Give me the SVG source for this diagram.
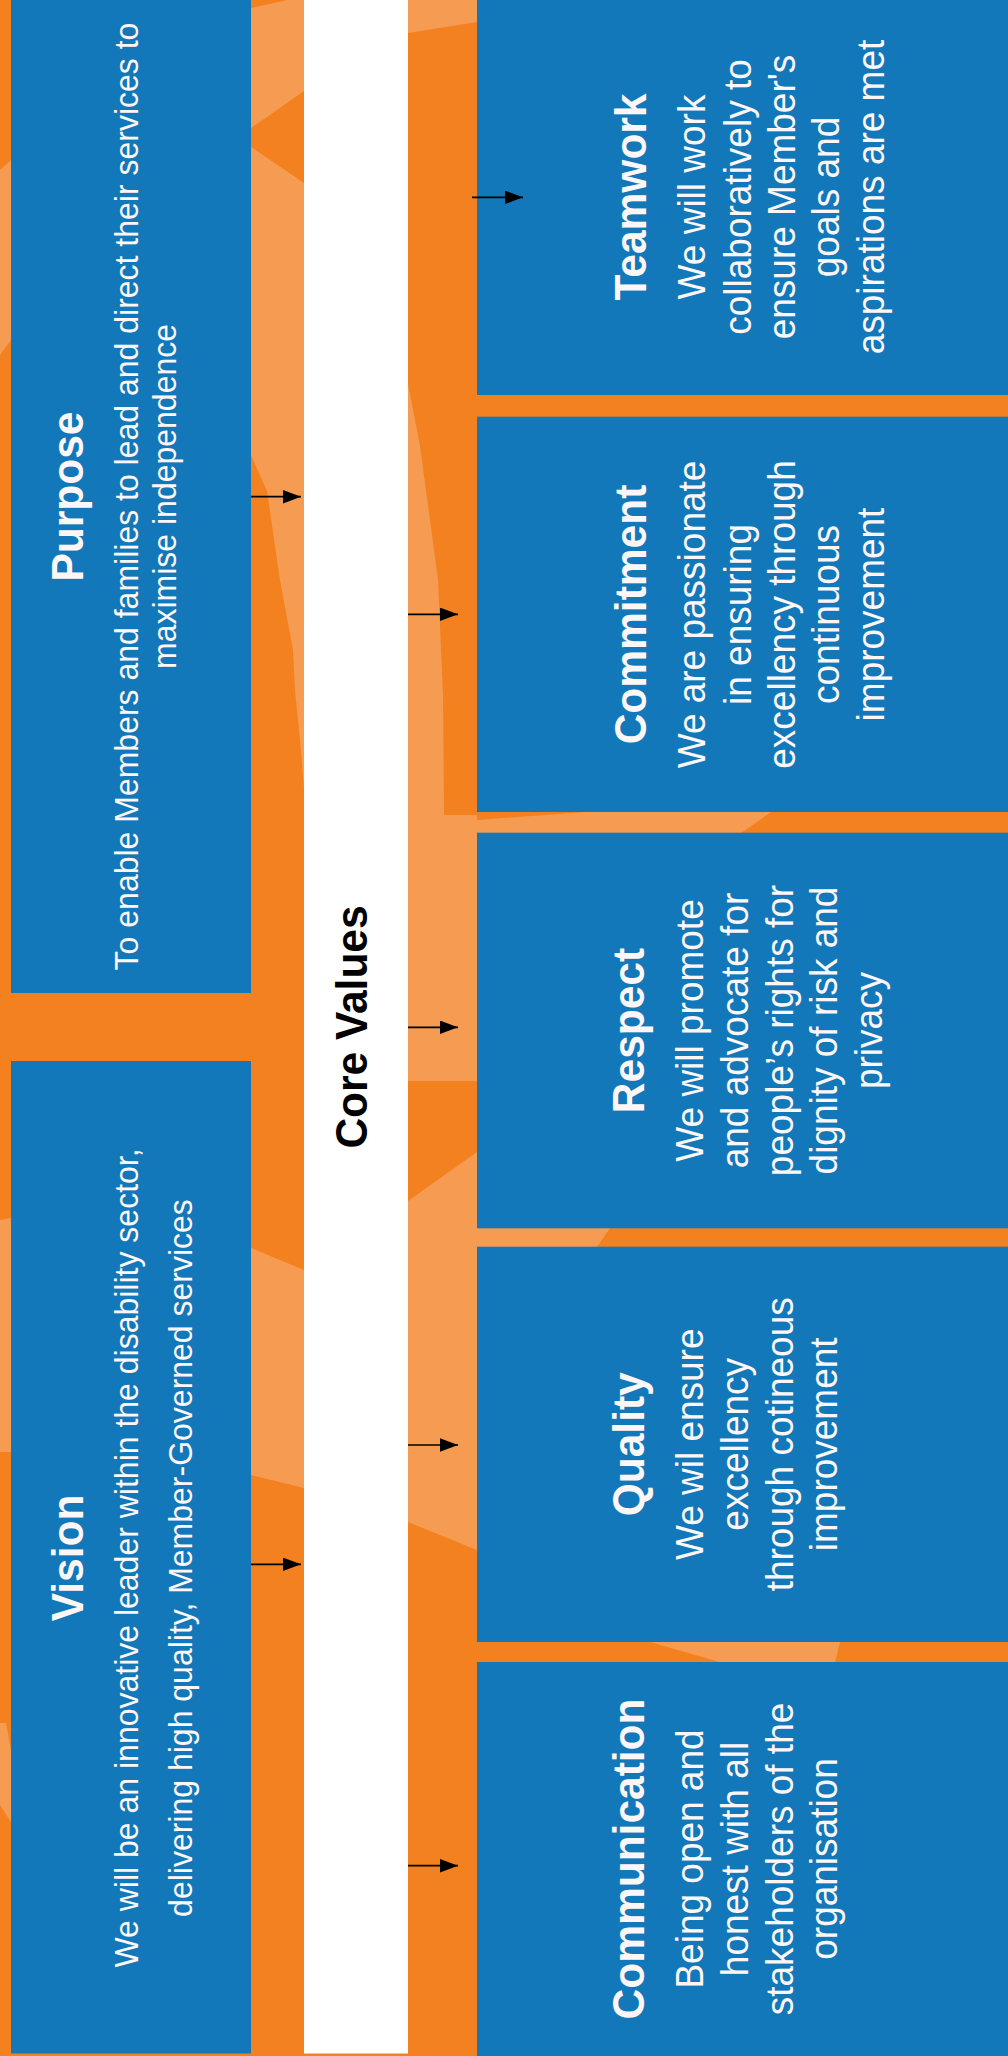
<svg xmlns="http://www.w3.org/2000/svg" width="1008" height="2056" viewBox="0 0 1008 2056">
<style>
.bg{fill:#F48120}
.lt{fill:#F69C52}
.og{fill:#F48120}
.box{fill:#1378BA}
.bar{fill:#FFFFFF}
.t{font-family:"Liberation Sans",Arial,sans-serif;text-anchor:middle;fill:#FDF6F6}
.h{font-weight:bold;font-size:42.5px}
.bl{font-size:32px}
.br{font-size:37px}
.cv{font-family:"Liberation Sans",Arial,sans-serif;text-anchor:middle;font-weight:bold;font-size:42.5px;fill:#000000}
.arr{stroke:#000000;stroke-width:1.7;fill:none}
</style>
<defs>
<marker id="ah" markerUnits="userSpaceOnUse" markerWidth="18" markerHeight="14" refX="18" refY="6.7" orient="auto">
<path d="M0,0 L18,6.7 L0,13.4 z" fill="#000000"/>
</marker>
</defs>
<g id="background">
<rect class="bg" x="0" y="0" width="1008" height="2056"/>
<polygon class="lt" points="0,170 11,160 11,340 0,355"/>
<polygon class="lt" points="0,1220 11,1218 11,1452 0,1452"/>
<polygon class="lt" points="0,1723 6,1723 11,1750 11,1822 0,1805"/>
<polygon class="lt" points="251,8 288,0 304,0 304,788 300,740 295,690 293,650 280,580 267,491 251,455"/>
<polygon class="og" points="304,91 251,128 251,147 304,183"/>
<polygon class="lt" points="251,1248 304,1270 304,1488 251,1475"/>
<polygon class="lt" points="408,0 477,0 477,22 408,33"/>
<polygon class="lt" points="408,384 420,446 438,580 443,696 444,815 477,815 477,1550 408,1522"/>
<polygon class="og" points="408,1081 477,1081 477,1152 408,1201"/>
<polygon class="lt" points="477,820 587,812 771,812 741,833 477,833"/>
<polygon class="lt" points="477,1228 610,1228 597,1247 477,1247"/>
<polygon class="lt" points="650,1642 840,1642 835,1662 720,1662"/>
</g>
<g id="core-values">
<rect class="bar" x="304" y="0" width="104" height="2053.5"/>
<g transform="translate(0,1027) rotate(-90) scale(1,1.045)">
<text class="cv" x="0" y="350.9">Core Values</text>
</g>
</g>
<g id="purpose">
<rect class="box" x="11" y="0" width="240" height="993"/>
<g transform="translate(0,496.5) rotate(-90) scale(1,1.045)">
<text class="t h" x="0" y="79.7">Purpose</text>
<text class="t bl" x="0" y="131.8">To enable Members and families to lead and direct their services to</text>
<text class="t bl" x="0" y="168.4">maximise independence</text>
</g>
</g>
<g id="vision">
<rect class="box" x="11" y="1061" width="240" height="992.5"/>
<g transform="translate(0,1558) rotate(-90) scale(1,1.045)">
<text class="t h" x="0" y="79.7">Vision</text>
<text class="t bl" x="0" y="131.8">We will be an innovative leader within the disability sector,</text>
<text class="t bl" x="0" y="183.4">delivering high quality, Member-Governed services</text>
</g>
</g>
<g id="teamwork">
<rect class="box" x="477" y="0" width="531" height="395"/>
<g transform="translate(0,197) rotate(-90) scale(1,1.045)">
<text class="t h" x="0" y="617.9">Teamwork</text>
<text class="t br" x="0" y="674.6">We will work</text>
<text class="t br" x="0" y="718.4">collaboratively to</text>
<text class="t br" x="0" y="760.8">ensure Member's</text>
<text class="t br" x="0" y="802.9">goals and</text>
<text class="t br" x="0" y="845.9">aspirations are met</text>
</g>
</g>
<g id="commitment">
<rect class="box" x="477" y="416.7" width="531" height="395.3"/>
<g transform="translate(0,614.5) rotate(-90) scale(1,1.045)">
<text class="t h" x="0" y="617.9">Commitment</text>
<text class="t br" x="0" y="674.6">We are passionate</text>
<text class="t br" x="0" y="718.4">in ensuring</text>
<text class="t br" x="0" y="760.8">excellency through</text>
<text class="t br" x="0" y="802.9">continuous</text>
<text class="t br" x="0" y="845.9">improvement</text>
</g>
</g>
<g id="respect">
<rect class="box" x="477" y="832.7" width="531" height="395.6"/>
<g transform="translate(0,1030.5) rotate(-90) scale(1,1.045)">
<text class="t h" x="0" y="616.3">Respect</text>
<text class="t br" x="0" y="673">We will promote</text>
<text class="t br" x="0" y="716.1">and advocate for</text>
<text class="t br" x="0" y="758.9">people’s rights for</text>
<text class="t br" x="0" y="801.2">dignity of risk and</text>
<text class="t br" x="0" y="844">privacy</text>
</g>
</g>
<g id="quality">
<rect class="box" x="477" y="1246.7" width="531" height="395.3"/>
<g transform="translate(0,1444.3) rotate(-90) scale(1,1.045)">
<text class="t h" x="0" y="616.3">Quality</text>
<text class="t br" x="0" y="673">We wil ensure</text>
<text class="t br" x="0" y="716.1">excellency</text>
<text class="t br" x="0" y="758.9">through cotineous</text>
<text class="t br" x="0" y="801.2">improvement</text>
</g>
</g>
<g id="communication">
<rect class="box" x="477" y="1662" width="531" height="394"/>
<g transform="translate(0,1859) rotate(-90) scale(1,1.045)">
<text class="t h" x="0" y="616.3">Communication</text>
<text class="t br" x="0" y="673">Being open and</text>
<text class="t br" x="0" y="716.1">honest with all</text>
<text class="t br" x="0" y="758.9">stakeholders of the</text>
<text class="t br" x="0" y="801.2">organisation</text>
</g>
</g>
<g id="connectors">
<line class="arr" x1="251" y1="496.7" x2="301" y2="496.7" marker-end="url(#ah)"/>
<line class="arr" x1="251" y1="1564.3" x2="301" y2="1564.3" marker-end="url(#ah)"/>
<line class="arr" x1="472" y1="197.3" x2="523" y2="197.3" marker-end="url(#ah)"/>
<line class="arr" x1="408" y1="614.3" x2="458" y2="614.3" marker-end="url(#ah)"/>
<line class="arr" x1="408" y1="1027.3" x2="458" y2="1027.3" marker-end="url(#ah)"/>
<line class="arr" x1="408" y1="1445" x2="458" y2="1445" marker-end="url(#ah)"/>
<line class="arr" x1="408" y1="1865.7" x2="458" y2="1865.7" marker-end="url(#ah)"/>
</g>
</svg>
